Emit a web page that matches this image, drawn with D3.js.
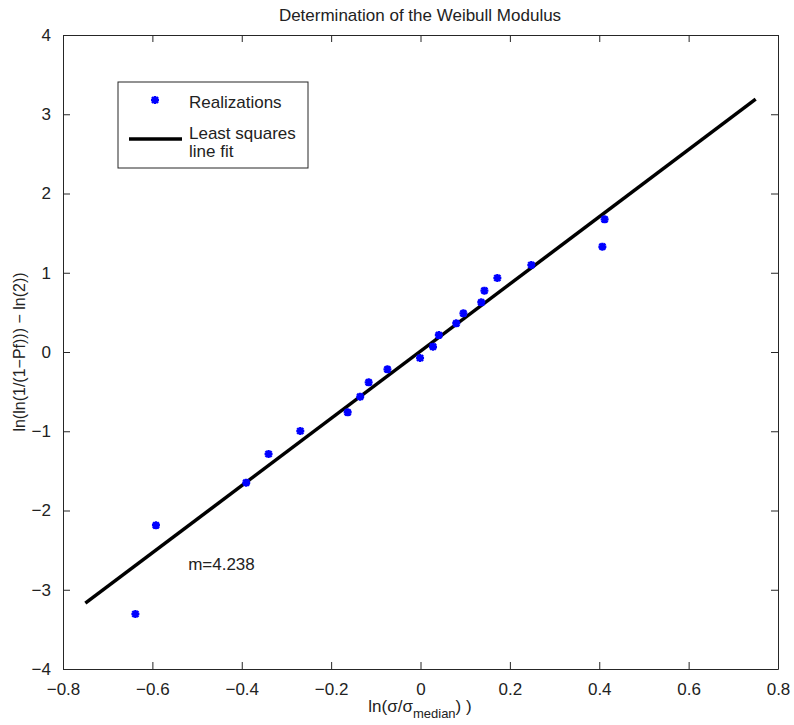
<!DOCTYPE html>
<html>
<head>
<meta charset="utf-8">
<script src="https://cdn.jsdelivr.net/npm/d3@7"></script>
<style>
  body { margin: 0; background: #fff; }
  text { font-family: Arial, "Liberation Sans", sans-serif; fill: #222; }
</style>
</head>
<body>
<div id="chart"></div>
<script>
// realizations
const xVals = [-0.638, -0.592, -0.390, -0.340, -0.269, -0.163, -0.135, -0.116, -0.074, -0.001,
               0.028, 0.041, 0.080, 0.096, 0.136, 0.143, 0.172, 0.248, 0.407, 0.412];
const yVals = [-3.306, -2.187, -1.649, -1.287, -0.997, -0.761, -0.564, -0.383, -0.219, -0.076,
               0.067, 0.214, 0.362, 0.488, 0.627, 0.774, 0.934, 1.098, 1.329, 1.674];

// least squares line end points
const fitX = [-0.75, 0.75];
const fitY = [-3.17, 3.19];

const xTicks = [-0.8, -0.6, -0.4, -0.2, 0, 0.2, 0.4, 0.6, 0.8];
const yTicks = [-4, -3, -2, -1, 0, 1, 2, 3, 4];

const width = 794;
const height = 725;
const margin = { top: 35, right: 16, bottom: 56, left: 63 };

const svg = d3.select("#chart")
  .append("svg")
  .attr("width", width)
  .attr("height", height);

const x = d3.scaleLinear()
  .domain([-0.8, 0.8])
  .range([margin.left, width - margin.right]);

const y = d3.scaleLinear()
  .domain([-4, 4])
  .range([height - margin.bottom, margin.top]);

const fmt = d => d === 0 ? "0" : d3.format("")(d).replace("-", "\u2212");

// axes with inward ticks
const axisStyle = g => {
  g.select(".domain").attr("stroke", "#262626");
  g.selectAll(".tick line").attr("stroke", "#262626");
  g.selectAll(".tick text").style("font-size", "17px").attr("fill", "#222");
};

svg.append("g")
  .attr("transform", `translate(0,${height - margin.bottom})`)
  .call(d3.axisBottom(x).tickValues(xTicks).tickSize(-7).tickSizeOuter(0).tickPadding(14).tickFormat(fmt))
  .call(axisStyle);

svg.append("g")
  .attr("transform", `translate(0,${margin.top})`)
  .call(d3.axisTop(x).tickValues(xTicks).tickSize(-7).tickSizeOuter(0).tickFormat(""))
  .call(axisStyle);

svg.append("g")
  .attr("transform", `translate(${margin.left},0)`)
  .call(d3.axisLeft(y).tickValues(yTicks).tickSize(-7).tickSizeOuter(0).tickPadding(12).tickFormat(fmt))
  .call(axisStyle);

svg.append("g")
  .attr("transform", `translate(${width - margin.right},0)`)
  .call(d3.axisRight(y).tickValues(yTicks).tickSize(-7).tickSizeOuter(0).tickFormat(""))
  .call(axisStyle);

// fit line
const line = d3.line()
  .x(d => x(d[0]))
  .y(d => y(d[1]));

svg.append("path")
  .datum(fitX.map((v, i) => [v, fitY[i]]))
  .attr("fill", "none")
  .attr("stroke", "#000")
  .attr("stroke-width", 3.5)
  .attr("d", line);

// asterisk marker
const star = "M-4,0H4M0,-4V4M-3,-3L3,3M-3,3L3,-3";

svg.append("g")
  .selectAll("path")
  .data(xVals.map((v, i) => [v, yVals[i]]))
  .join("path")
  .attr("transform", d => `translate(${x(d[0])},${y(d[1])})`)
  .attr("d", star)
  .attr("stroke", "#0000ff")
  .attr("stroke-width", 2.4)
  .attr("fill", "none");

// annotation
svg.append("text")
  .attr("x", x(-0.52))
  .attr("y", y(-2.75))
  .style("font-size", "17px")
  .text("m=4.238");

// title
svg.append("text")
  .attr("x", 420)
  .attr("y", 21)
  .attr("text-anchor", "middle")
  .style("font-size", "17px")
  .text("Determination of the Weibull Modulus");

// x label
const xl = svg.append("text")
  .attr("x", 420)
  .attr("y", 712)
  .attr("text-anchor", "middle")
  .style("font-size", "17px");
xl.append("tspan").text("ln(\u03c3/\u03c3");
xl.append("tspan").attr("dy", 6).style("font-size", "13px").text("median");
xl.append("tspan").attr("dy", -6).text(") )");

// y label
svg.append("text")
  .attr("transform", `translate(25,${y(0)}) rotate(-90)`)
  .attr("text-anchor", "middle")
  .style("font-size", "16px")
  .text("ln(ln(1/(1\u2212Pf))) \u2212 ln(2))");

// legend
const legend = svg.append("g");
legend.append("rect")
  .attr("x", 118).attr("y", 82)
  .attr("width", 190).attr("height", 86)
  .attr("fill", "#fff")
  .attr("stroke", "#262626");

legend.append("path")
  .attr("transform", "translate(155,100)")
  .attr("d", star)
  .attr("stroke", "#0000ff")
  .attr("stroke-width", 2.4)
  .attr("fill", "none");

legend.append("text").attr("x", 189).attr("y", 108).style("font-size", "17px").text("Realizations");

legend.append("line")
  .attr("x1", 129).attr("x2", 182)
  .attr("y1", 139).attr("y2", 139)
  .attr("stroke", "#000").attr("stroke-width", 3.5);

legend.append("text").attr("x", 189).attr("y", 139).style("font-size", "17px").text("Least squares");
legend.append("text").attr("x", 189).attr("y", 157).style("font-size", "17px").text("line fit");
</script>
</body>
</html>
